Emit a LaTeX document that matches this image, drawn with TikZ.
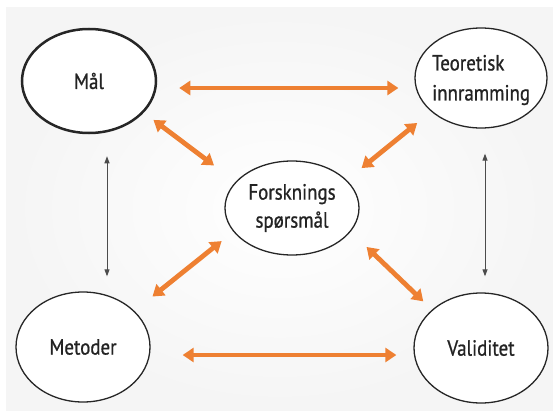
\documentclass[tikz,border=0pt]{standalone}
\usepackage{fontspec}
\setmainfont{PT Sans}[FakeStretch=0.86,FakeBold=0.8]
\usetikzlibrary{arrows.meta,shapes.geometric}
\definecolor{orng}{RGB}{238,128,50}
\definecolor{txt}{RGB}{35,35,35}
\begin{document}
\begin{tikzpicture}[x=1pt,y=-1pt,
  bub/.style={draw=black!85, line width=1.3pt, ellipse, fill=white, inner sep=0pt,
    font=\fontsize{22}{28}\selectfont, text=txt, align=center},
  oarr/.style={draw=orng, line width=4.8pt,
    {Triangle[width=14pt,length=11pt]}-{Triangle[width=14pt,length=11pt]}},
  karr/.style={draw=black!70, line width=1pt,
    {Triangle[width=5pt,length=7pt]}-{Triangle[width=5pt,length=7pt]}}]
\useasboundingbox (0,0) rectangle (553,412);
\fill[white] (0,0) rectangle (553,412);
\shade[inner color=white, outer color=black!4] (6,8) rectangle (553,410);

\node[bub, line width=2.5pt, minimum width=134pt, minimum height=104pt] (mal) at (89,81) {Mål};
\node[bub, minimum width=132pt, minimum height=100pt] (teo) at (481,78) {};
\node[font=\fontsize{22}{30}\selectfont, text=txt, align=left, anchor=west, inner sep=0pt] (teotext) at (432,80) {Teoretisk\\innramming};
\node[bub, minimum width=134pt, minimum height=94pt] (fors) at (292,208) {Forsknings\\spørsmål};
\node[bub, minimum width=134pt, minimum height=110pt] (met) at (83,347) {Metoder};
\node[bub, minimum width=134pt, minimum height=110pt] (val) at (481,348) {Validitet};

\draw[oarr, shorten <=22pt, shorten >=16pt] ([yshift=-7pt]mal.east) -- ([yshift=-10pt]teo.west);
\draw[oarr, shorten <=32pt, shorten >=17pt] ([yshift=-8pt]met.east) -- ([yshift=-7pt]val.west);
\draw[oarr, shorten <=12pt, shorten >=27pt] (mal.-30) -- (fors.155);
\draw[oarr, shorten <=18pt, shorten >=19pt] (teo.214) -- (fors.27);
\draw[oarr, shorten <=15pt, shorten >=23pt] (fors.202) -- (met.35);
\draw[oarr, shorten <=22pt, shorten >=12pt] (fors.-22) -- (val.142);

\draw[karr, shorten <=22pt, shorten >=15pt] ([xshift=18pt]mal.south) -- ([xshift=24pt]met.north);
\draw[karr, shorten <=25pt, shorten >=16pt] ([xshift=4pt]teo.south) -- ([xshift=4pt]val.north);
\end{tikzpicture}
\end{document}
